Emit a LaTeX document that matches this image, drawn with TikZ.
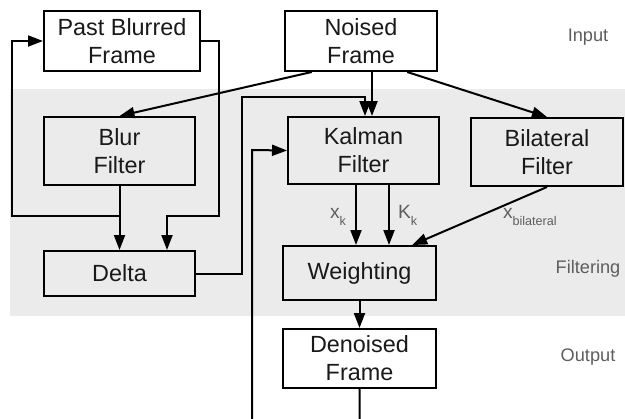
\documentclass[tikz,border=0pt]{standalone}
\usepackage{fontspec}
\setmainfont{Liberation Sans}
\usetikzlibrary{arrows.meta,positioning,calc}
\definecolor{bandgray}{HTML}{EBEBEB}
\definecolor{labgray}{HTML}{5E5E5E}
\newcommand{\lowidx}[1]{\raisebox{-3.8pt}{\fontsize{6.3}{7}\selectfont #1}}

\begin{document}
\begin{tikzpicture}[>={Triangle[length=7.5pt,width=5.5pt]},x=0.5pt,y=-0.5pt,line width=1pt,
 font=\fontsize{11.7}{14}\selectfont,
 box/.style={draw,align=center,inner sep=0pt,text=black!90},
 lab/.style={font=\fontsize{9.6}{10}\selectfont,text=labgray,inner sep=0pt,anchor=base west},
 side/.style={font=\fontsize{9.1}{11}\selectfont,text=labgray}]
\useasboundingbox (0,0) rectangle (625,418);
\fill[bandgray] (10,89) rectangle (625,316);
\node[box,minimum width=78pt,minimum height=30pt] (past) at (122,41) {Past Blurred\\Frame};
\node[box,minimum width=76pt,minimum height=30pt] (noised) at (361,41) {Noised\\Frame};
\node[box,minimum width=75.5pt,minimum height=34pt] (blur) at (119.5,151) {Blur\\Filter};
\node[box,minimum width=75.5pt,minimum height=33.5pt] (kal) at (363.5,150.5) {Kalman\\Filter};
\node[box,minimum width=76pt,minimum height=34pt] (bil) at (547,152) {Bilateral\\Filter};
\node[box,minimum width=75.5pt,minimum height=22.5pt] (delta) at (119.5,273.5) {Delta};
\node[box,minimum width=76.5pt,minimum height=27pt] (weight) at (359.5,273) {Weighting};
\node[box,minimum width=76.5pt,minimum height=29.5pt] (den) at (359.5,358.5) {Denoised\\Frame};
% inputs of the filters
\draw[->] ($(noised.south west)!0.18!(noised.south east)$) -- (blur.north);
\coordinate (kin) at ([xshift=4.25pt]kal.north);
\draw[->] (kin |- noised.south) -- (kin);
\draw[->] ($(noised.south west)!0.8!(noised.south east)$) -- (bil.north);
% delta branch
\coordinate (bj) at (119.5,216);
\coordinate (din) at ([xshift=23.75pt]delta.north);
\draw[->] (blur.south) -- (delta.north);
\draw[->] (bj) -| (12,41) -- (past.west);
\draw[->] (past.east) -| (219,216) -| (din);
\draw[->] (delta.east) -| (242,97) -| ([xshift=0.75pt]kal.north);
% weighting
\coordinate (xko) at ([xshift=-3.75pt]kal.south);
\coordinate (kko) at ([xshift=12.75pt]kal.south);
\draw[->] (xko) -- (xko |- weight.north);
\draw[->] (kko) -- (kko |- weight.north);
\draw[->] (bil.south) -- ($(weight.north west)!0.84!(weight.north east)$);
\draw[->] (weight.south) -- (den.north);
% feedback
\draw[->] (den.south) -- ++(0,45) -| (252,150) -- (kal.west);
\node[lab] (lxk) at (329,218) {x\lowidx{k}};
\node[lab] (lkk) at (397,218) {K\lowidx{k}};
\node[lab] (lxb) at (502,218) {x\lowidx{bilateral}};
\node[side] (tin) at (588,37) {Input};
\node[side] (tfi) at (588,269) {Filtering};
\node[side] (tou) at (588,357) {Output};
\end{tikzpicture}
\end{document}
